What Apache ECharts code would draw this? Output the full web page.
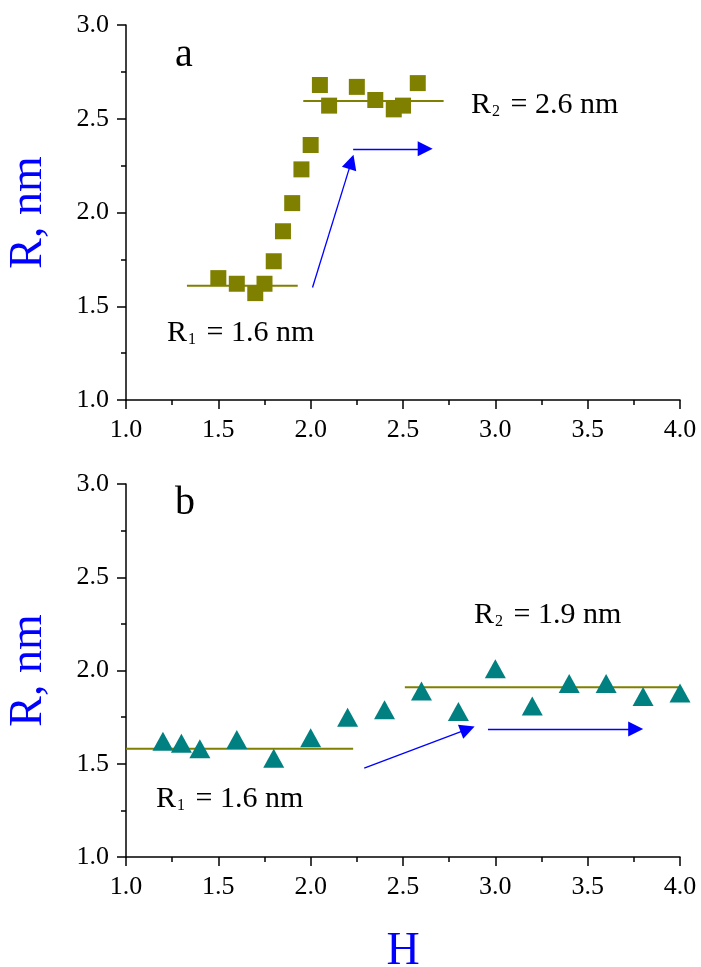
<!DOCTYPE html>
<html><head><meta charset="utf-8">
<script src="https://cdn.jsdelivr.net/npm/echarts@6/dist/echarts.min.js"></script>
<style>html,body{margin:0;padding:0;background:#fff}#c{width:701px;height:967px}</style>
</head><body><div id="c"></div>
<script>
// Panel a data (squares)
const aX = [1.5, 1.6, 1.7, 1.75, 1.8, 1.85, 1.9, 1.95, 2.0, 2.05, 2.1, 2.25, 2.35, 2.45, 2.5, 2.58];
const aY = [1.65, 1.62, 1.57, 1.62, 1.74, 1.90, 2.05, 2.23, 2.36, 2.68, 2.57, 2.67, 2.60, 2.55, 2.57, 2.69];
const aLevel1 = [[1.33, 1.61], [1.93, 1.61]];
const aLevel2 = [[1.96, 2.595], [2.72, 2.595]];
const aArrow1 = [[2.01, 1.60], [2.22, 2.27]];
const aArrow2 = [[2.23, 2.34], [2.62, 2.34]];
// Panel b data (triangles)
const bX = [1.2, 1.3, 1.4, 1.6, 1.8, 2.0, 2.2, 2.4, 2.6, 2.8, 3.0, 3.2, 3.4, 3.6, 3.8, 4.0];
const bY = [1.62, 1.61, 1.58, 1.63, 1.53, 1.64, 1.75, 1.79, 1.89, 1.78, 2.01, 1.81, 1.93, 1.93, 1.86, 1.88];
const bLevel1 = [[1.0, 1.58], [2.23, 1.58]];
const bLevel2 = [[2.51, 1.91], [4.07, 1.91]];
const bArrow1 = [[2.29, 1.477], [2.85, 1.686]];
const bArrow2 = [[2.96, 1.686], [3.76, 1.686]];
const xTicks = [1.0, 1.5, 2.0, 2.5, 3.0, 3.5, 4.0];
const yTicks = [1.0, 1.5, 2.0, 2.5, 3.0];

const FONT = 'Liberation Serif';
const chart = echarts.init(document.getElementById('c'), null, {renderer: 'canvas'});
const pair = (xs, ys) => xs.map((x, i) => [x, ys[i]]);

function xAxis(idx, name) {
  return {
    type: 'value', gridIndex: idx, min: xTicks[0], max: xTicks[xTicks.length - 1], interval: 0.5,
    name: name, nameLocation: 'middle', nameGap: 72,
    nameTextStyle: {color: '#0000ff', fontFamily: FONT, fontSize: 46},
    axisLine: {show: true, onZero: false, lineStyle: {color: '#000', width: 1.5}},
    axisTick: {show: true, inside: false, length: 9, lineStyle: {color: '#000', width: 1.5}},
    minorTick: {show: true, splitNumber: 2, length: 5, lineStyle: {color: '#000', width: 1.5}},
    splitLine: {show: false},
    axisLabel: {color: '#000', fontFamily: FONT, fontSize: 26, margin: 17, formatter: v => v.toFixed(1)}
  };
}
function yAxis(idx) {
  return {
    type: 'value', gridIndex: idx, min: yTicks[0], max: yTicks[yTicks.length - 1], interval: 0.5,
    name: 'R, nm', nameLocation: 'middle', nameGap: 74, nameRotate: 90,
    nameTextStyle: {color: '#0000ff', fontFamily: FONT, fontSize: 46},
    axisLine: {show: true, onZero: false, lineStyle: {color: '#000', width: 1.5}},
    axisTick: {show: true, inside: false, length: 9, lineStyle: {color: '#000', width: 1.5}},
    minorTick: {show: true, splitNumber: 2, length: 5, lineStyle: {color: '#000', width: 1.5}},
    splitLine: {show: false},
    axisLabel: {color: '#000', fontFamily: FONT, fontSize: 26, margin: 17, formatter: v => v.toFixed(1)}
  };
}
function level(idx, data) {
  return {type: 'line', xAxisIndex: idx, yAxisIndex: idx, data: data, symbol: 'none', silent: true,
    lineStyle: {color: '#808000', width: 2}, z: 1};
}
function arrow(idx, data) {
  return {type: 'lines', coordinateSystem: 'cartesian2d', xAxisIndex: idx, yAxisIndex: idx,
    symbol: ['none', 'triangle'], symbolSize: [7, 15], silent: true,
    lineStyle: {color: '#0000ff', width: 1.3, opacity: 1},
    data: [{coords: data}], z: 3};
}
function annot(left, top, main, sub, rest) {
  return {type: 'text', left: left, top: top, style: {
    rich: {
      m: {fontFamily: FONT, fontSize: 30, fill: '#000', lineHeight: 40, verticalAlign: 'bottom'},
      s: {fontFamily: FONT, fontSize: 16, fill: '#000', lineHeight: 16, verticalAlign: 'bottom', padding: [12, 3, 0, 1]}
    },
    text: '{m|' + main + '}{s|' + sub + '}{m|' + rest + '}'
  }};
}

chart.setOption({
  backgroundColor: '#fff',
  animation: false,
  grid: [
    {left: 126, top: 25, width: 554, height: 375, outerBoundsMode: 'none', containLabel: false},
    {left: 126, top: 484, width: 554, height: 373, outerBoundsMode: 'none', containLabel: false}
  ],
  xAxis: [xAxis(0, ''), xAxis(1, 'H')],
  yAxis: [yAxis(0), yAxis(1)],
  series: [
    level(0, aLevel1), level(0, aLevel2),
    {type: 'scatter', xAxisIndex: 0, yAxisIndex: 0, data: pair(aX, aY), symbol: 'rect', symbolSize: 16,
      itemStyle: {color: '#808000', opacity: 1}, z: 2},
    arrow(0, aArrow1), arrow(0, aArrow2),
    level(1, bLevel1), level(1, bLevel2),
    {type: 'scatter', xAxisIndex: 1, yAxisIndex: 1, data: pair(bX, bY), symbol: 'triangle', symbolSize: [21, 19],
      itemStyle: {color: '#008080', opacity: 1}, z: 2},
    arrow(1, bArrow1), arrow(1, bArrow2)
  ],
  graphic: [
    {type: 'text', left: 175, top: 35, style: {text: 'a', fontFamily: FONT, fontSize: 40, fill: '#000'}},
    {type: 'text', left: 175, top: 483, style: {text: 'b', fontFamily: FONT, fontSize: 40, fill: '#000'}},
    annot(471, 90, 'R', '2', ' = 2.6 nm'),
    annot(167, 318, 'R', '1', ' = 1.6 nm'),
    annot(474, 600, 'R', '2', ' = 1.9 nm'),
    annot(156, 784, 'R', '1', ' = 1.6 nm')
  ]
});
</script></body></html>
